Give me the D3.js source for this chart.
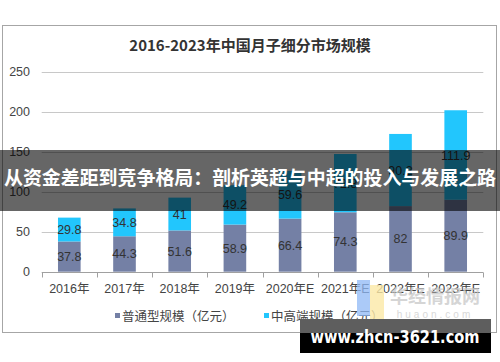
<!DOCTYPE html>
<html><head><meta charset="utf-8">
<script src="https://cdn.jsdelivr.net/npm/d3@7"></script>
<style>body{margin:0;background:#fff}svg{display:block}</style>
</head><body>
<svg id="c" width="500" height="362"></svg>
<script>
const categories = ["2016年","2017年","2018年","2019年","2020年E","2021年E","2022年E","2023年E"];
const normalValues = [37.8,44.3,51.6,58.9,66.4,74.3,82,89.9];
const premiumValues = [29.8,34.8,41,49.2,59.6,72.8,90.2,111.9];
const seriesNames = ["普通型规模（亿元）","中高端规模（亿元）"];
const yTicks = [0,50,100,150,200,250];
const titleText = "2016-2023年中国月子细分市场规模";
const bannerText = "从资金差距到竞争格局：剖析英超与中超的投入与发展之路";
const watermarkText = "www.zhcn-3621.com";

const colors = ["#7480a5","#22c6fd"];
const font = "'Liberation Sans','Noto Sans CJK SC',Arial,sans-serif";
const svg = d3.select("#c");

// frame
svg.append("rect").attr("x",2.5).attr("y",25.5).attr("width",494).attr("height",307)
  .attr("fill","#fff").attr("stroke","#a6a6a6").attr("stroke-width",1);

svg.append("text").attr("x",250).attr("y",51).attr("text-anchor","middle")
  .attr("font-family","'Noto Sans CJK SC',serif").attr("font-weight","bold")
  .attr("font-size",15).attr("fill","#333").text(titleText);

const x = d3.scaleBand().domain(categories).range([41.7,483.3]).paddingInner(0.59).paddingOuter(0.295);
const y = d3.scaleLinear().domain([0,250]).range([271.7,71.7]);

// gridlines
svg.append("g").selectAll("line").data(yTicks.filter(t=>t>0)).join("line")
  .attr("x1",41.7).attr("x2",483.3).attr("y1",d=>Math.round(y(d))+0.5).attr("y2",d=>Math.round(y(d))+0.5)
  .attr("stroke","#c8c8c8").attr("stroke-width",1);
svg.append("g").selectAll("text").data(yTicks).join("text")
  .attr("x",30).attr("y",d=>y(d)+4.5).attr("text-anchor","end")
  .attr("font-family",font).attr("font-size",12.5).attr("fill","#444").text(d=>d);

// stacked data
const rows = categories.map((c,i)=>({cat:c, normal:normalValues[i], premium:premiumValues[i]}));
const stack = d3.stack().keys(["normal","premium"])(rows);
const g = svg.append("g");
stack.forEach((layer,li)=>{
  g.selectAll(null).data(layer).join("rect")
    .attr("x",d=>x(d.data.cat)).attr("width",x.bandwidth())
    .attr("y",d=>y(d[1])).attr("height",d=>y(d[0])-y(d[1]))
    .attr("fill",colors[li]);
  g.selectAll(null).data(layer).join("text")
    .attr("x",d=>x(d.data.cat)+x.bandwidth()/2)
    .attr("y",d=>(y(d[0])+y(d[1]))/2+4.5)
    .attr("text-anchor","middle").attr("font-family",font).attr("font-size",12.5)
    .attr("fill","#333").text(d=>+(d[1]-d[0]).toFixed(1));
});

// x axis
const axY = Math.round(y(0))+0.5;
svg.append("line").attr("x1",41.7).attr("x2",483.3).attr("y1",axY).attr("y2",axY).attr("stroke","#a0a0a0");
const step = x.step();
const x0 = x(categories[0]) - x.paddingOuter()*step;
const bounds = d3.range(categories.length+1).map(i=>x0 + i*step);
svg.append("g").selectAll("line").data(bounds).join("line")
  .attr("x1",d=>Math.round(d)+0.5).attr("x2",d=>Math.round(d)+0.5).attr("y1",axY).attr("y2",axY+5)
  .attr("stroke","#a0a0a0");
svg.append("g").selectAll("text").data(categories).join("text")
  .attr("x",d=>x(d)+x.bandwidth()/2).attr("y",293).attr("text-anchor","middle")
  .attr("font-family",font).attr("font-size",12.5).attr("fill","#444").text(d=>d);

// legend
const leg = svg.append("g");
[[115,0],[264,1]].forEach(([lx,i])=>{
  leg.append("rect").attr("x",lx).attr("y",313).attr("width",5).attr("height",5).attr("fill",colors[i]);
  leg.append("text").attr("x",lx+7).attr("y",321).attr("font-family",font).attr("font-size",12.5)
    .attr("fill","#444").text(seriesNames[i]);
});

// huaon watermark
const wm = svg.append("g");
wm.append("rect").attr("x",357).attr("y",280).attr("width",13).attr("height",36).attr("fill","#8fb8f5").attr("opacity",0.75);
wm.append("rect").attr("x",370).attr("y",285).attr("width",14).attr("height",35).attr("fill","#fbe9a6").attr("opacity",0.8);
wm.append("text").attr("x",435).attr("y",303).attr("text-anchor","middle").attr("font-family","'Noto Sans CJK SC',sans-serif")
  .attr("font-weight","bold").attr("font-size",18).attr("fill","#c8c8c8").attr("opacity",0.75).text("华经情报网");
wm.append("text").attr("x",435).attr("y",318).attr("text-anchor","middle").attr("font-family",font)
  .attr("font-size",10).attr("letter-spacing",3).attr("fill","#cfcfcf").attr("opacity",0.8).text("huaon.com");

// banner
svg.append("rect").attr("x",0).attr("y",150).attr("width",500).attr("height",61).attr("fill","rgba(0,0,0,0.6)");
svg.append("text").attr("x",250).attr("y",185).attr("text-anchor","middle")
  .attr("font-family","'Noto Sans CJK SC',sans-serif").attr("font-weight","bold").attr("font-size",19)
  .attr("textLength",492).attr("lengthAdjust","spacingAndGlyphs")
  .attr("fill","#fff").text(bannerText);

// site watermark box
svg.append("rect").attr("x",300).attr("y",319).attr("width",191).attr("height",34).attr("fill","#000");
svg.append("rect").attr("x",300).attr("y",319).attr("width",191).attr("height",14).attr("fill","#5e5e5e");
svg.append("text").attr("x",395).attr("y",342.5).attr("text-anchor","middle")
  .attr("font-family","'DejaVu Sans',sans-serif").attr("font-weight","bold").attr("font-size",17)
  .attr("textLength",169).attr("lengthAdjust","spacingAndGlyphs")
  .attr("fill","#fff").text(watermarkText);
</script>
</body></html>
